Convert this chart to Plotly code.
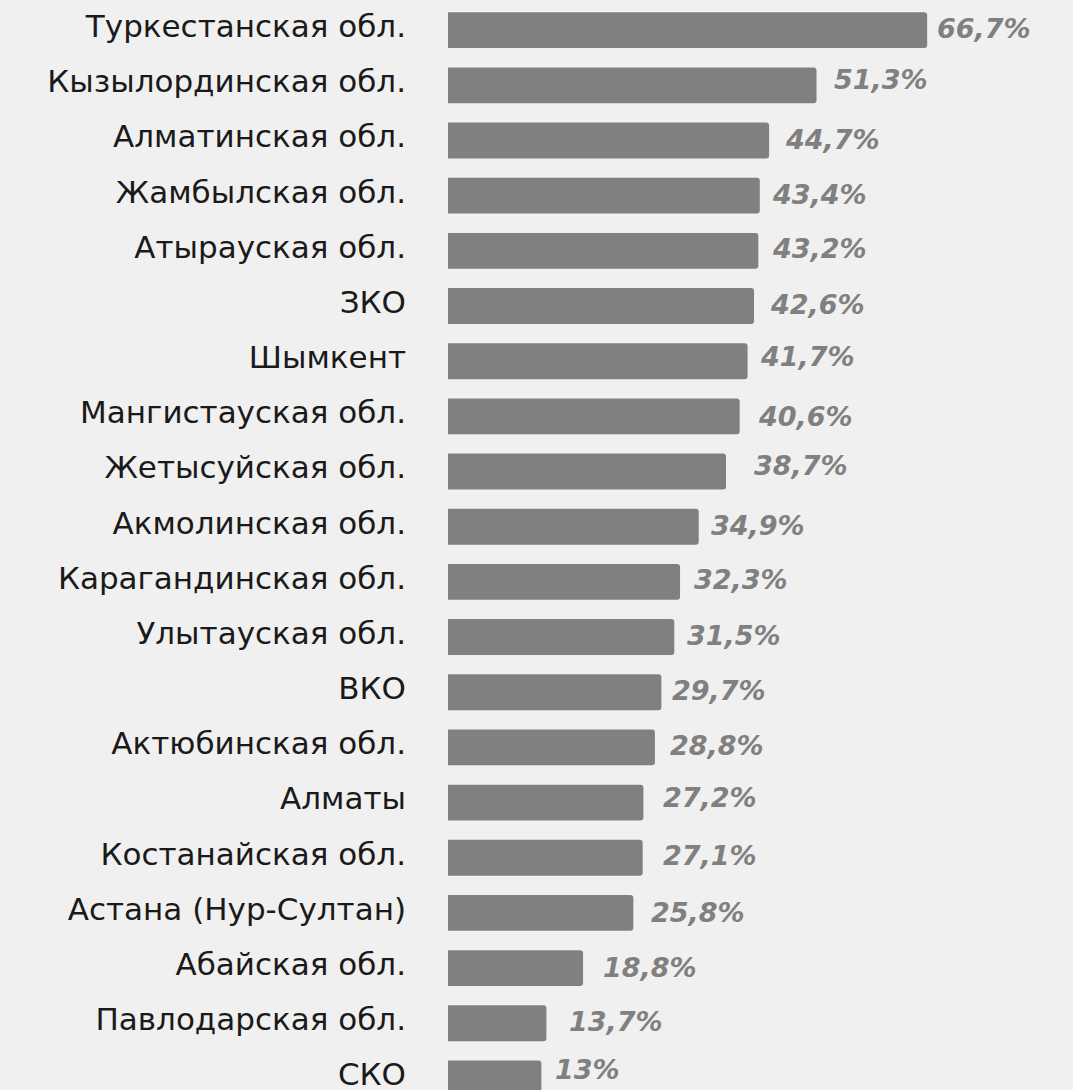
import plotly.graph_objects as go

regions = ["Туркестанская обл.", "Кызылординская обл.", "Алматинская обл.", "Жамбылская обл.",
           "Атырауская обл.", "ЗКО", "Шымкент", "Мангистауская обл.", "Жетысуйская обл.",
           "Акмолинская обл.", "Карагандинская обл.", "Улытауская обл.", "ВКО",
           "Актюбинская обл.", "Алматы", "Костанайская обл.", "Астана (Нур-Султан)",
           "Абайская обл.", "Павлодарская обл.", "СКО"]
values = [66.7, 51.3, 44.7, 43.4, 43.2, 42.6, 41.7, 40.6, 38.7, 34.9,
          32.3, 31.5, 29.7, 28.8, 27.2, 27.1, 25.8, 18.8, 13.7, 13.0]
value_labels = ["66,7%", "51,3%", "44,7%", "43,4%", "43,2%", "42,6%", "41,7%", "40,6%",
                "38,7%", "34,9%", "32,3%", "31,5%", "29,7%", "28,8%", "27,2%", "27,1%",
                "25,8%", "18,8%", "13,7%", "13%"]

# label placement style (pixel shifts)
label_dx = [8, 15, 14, 10, 12, 14, 10, 16, 26, 10, 12, 11, 9, 13, 18, 18, 16, 18, 21, 12]
label_dy = [2, 6, 1, 1, 2, 2, 5, 0, 6, 1, 2, 2, 2, 2, 5, 2, 0, 1, 2, 9]

idx = list(range(len(regions)))

fig = go.Figure()
fig.add_trace(go.Bar(
    x=values, y=idx, orientation="h",
    marker=dict(color="#808080", cornerradius=3, line=dict(width=0)),
    width=0.65, hoverinfo="skip",
))

for i, (v, t) in enumerate(zip(values, value_labels)):
    fig.add_annotation(
        x=v, y=i, text=t, showarrow=False, xanchor="left", yanchor="middle",
        xshift=label_dx[i], yshift=label_dy[i],
        font=dict(family="DejaVu Sans", size=27, color="#808080", weight=700, style="italic"),
    )

fig.update_layout(
    width=1073, height=1090,
    margin=dict(l=448, r=0, t=0, b=0, autoexpand=False),
    paper_bgcolor="#f0f0f0", plot_bgcolor="#f0f0f0",
    showlegend=False,
    xaxis=dict(range=[0, 87.0], visible=False, fixedrange=True, automargin=False),
    yaxis=dict(
        range=[19.21, -0.547], tickmode="array", tickvals=idx, ticktext=regions,
        showgrid=False, zeroline=False, showline=False, ticks="",
        automargin=False,
        ticklabelstandoff=41, ticklabeloverflow="allow", ticklabelshift=4,
        tickfont=dict(family="DejaVu Sans", size=31, color="#1a1a1a"),
    ),
)

fig.write_html("out.html")
